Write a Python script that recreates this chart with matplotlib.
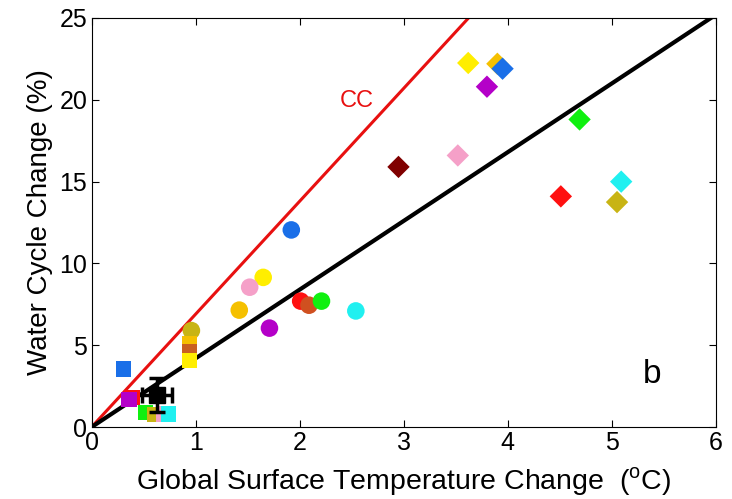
import matplotlib
matplotlib.use('Agg')
import matplotlib.pyplot as plt

plt.rcParams['font.family'] = ['Liberation Sans', 'DejaVu Sans']

# squares (observations / small forcing runs)
sq_x = [0.31, 0.39, 0.36, 0.52, 0.61, 0.69, 0.74, 0.94, 0.94, 0.94]
sq_y = [3.55, 1.8, 1.7, 0.9, 0.75, 0.8, 0.8, 5.1, 4.6, 4.05]
sq_c = ['#1a6fe8', '#ff1010', '#b400c8', '#10f010', '#c8b414', '#f5a0c8',
        '#20f0f0', '#f5c000', '#c86020', '#ffee00']

# circles
ci_x = [1.92, 1.65, 1.52, 1.42, 1.71, 2.01, 2.09, 2.21, 2.54, 0.96]
ci_y = [12.05, 9.15, 8.55, 7.15, 6.05, 7.7, 7.45, 7.7, 7.1, 5.9]
ci_c = ['#1a6fe8', '#ffee00', '#f5a0c8', '#f5c000', '#b400c8', '#ff1010',
        '#d05020', '#10f010', '#20f0f0', '#c8b414']

# diamonds
di_x = [3.62, 3.9, 3.95, 3.8, 4.69, 3.52, 2.95, 4.51, 5.09, 5.05]
di_y = [22.25, 22.2, 21.9, 20.8, 18.8, 16.6, 15.9, 14.1, 15.0, 13.75]
di_c = ['#ffee00', '#f5c000', '#1a6fe8', '#b400c8', '#10f010', '#f5a0c8',
        '#800000', '#ff1010', '#20f0f0', '#c8b414']

# observed estimate with uncertainty
obs_x, obs_y = 0.63, 1.95
obs_xerr, obs_yerr = 0.14, 1.05

cc_slope = 6.9
fit_slope = 4.2

fig = plt.figure(figsize=(7.32, 4.99), dpi=100)
ax = fig.add_axes([0.125, 0.144, 0.853, 0.82])

ax.plot([0, 6], [0, 6 * cc_slope], color='#e81010', lw=2.2, zorder=2)
ax.plot([0, 6], [0, 6 * fit_slope], color='black', lw=3, zorder=2)

ax.scatter(ci_x, ci_y, s=160, c=ci_c, marker='o', edgecolors='none', zorder=3)
ax.scatter(sq_x, sq_y, s=120, c=sq_c, marker='s', edgecolors='none', zorder=3)
ax.scatter(di_x, di_y, s=130, c=di_c, marker='D', edgecolors='none', zorder=3)

ax.errorbar(obs_x, obs_y, xerr=obs_xerr, yerr=obs_yerr, fmt='s', color='black',
            ms=12, elinewidth=2.5, capsize=6, capthick=2.5, zorder=4)

ax.text(2.55, 19.9, 'CC', color='#e81010', fontsize=17, ha='center', va='center')
ax.text(5.39, 3.2, 'b', color='black', fontsize=24, ha='center', va='center')

ax.set_xlim(0, 6)
ax.set_ylim(0, 25)
ax.set_xticks(range(0, 7))
ax.set_yticks(range(0, 26, 5))
ax.tick_params(direction='in', top=True, right=True, labelsize=18, length=5, pad=3)
ax.set_xlabel('Global Surface Temperature Change  ($^\\mathregular{o}$C)', fontsize=20.5,
              labelpad=7)
ax.set_ylabel('Water Cycle Change (%)', fontsize=20, labelpad=5)

fig.savefig('out.png', dpi=100)
